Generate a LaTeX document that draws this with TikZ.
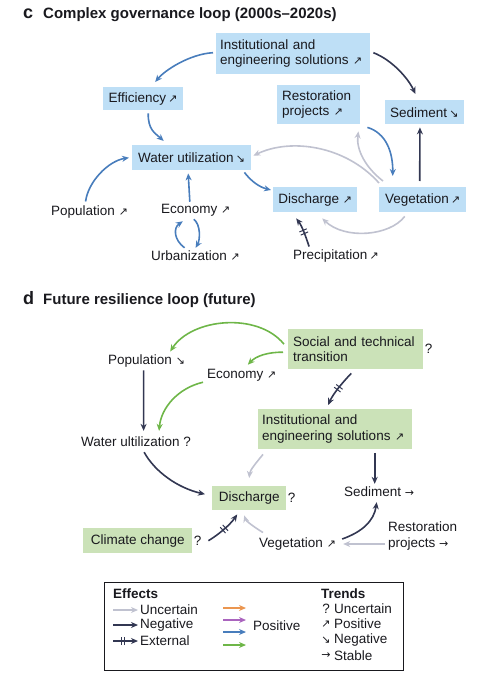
\documentclass[tikz,border=0pt]{standalone}
\usepackage{fontspec}
\setmainfont{Liberation Sans}
\newfontfamily\arrowfont{DejaVu Sans}
\usetikzlibrary{arrows.meta, decorations.markings}

\definecolor{boxblue}{RGB}{190,223,246}
\definecolor{boxgreen}{RGB}{203,226,184}
\definecolor{arrblue}{RGB}{72,125,188}
\definecolor{arrnavy}{RGB}{50,55,82}
\definecolor{arrgrey}{RGB}{192,194,208}
\definecolor{arrgreen}{RGB}{110,182,72}
\definecolor{arrorange}{RGB}{235,150,80}
\definecolor{arrpurple}{RGB}{170,100,190}
\definecolor{ink}{RGB}{25,25,30}

\newcommand\trup{{\arrowfont\fontsize{11}{11}\selectfont ↗}}
\newcommand\trdown{{\arrowfont\fontsize{11}{11}\selectfont ↘}}
\newcommand\trflat{{\arrowfont\fontsize{11}{11}\selectfont →}}

\begin{document}
\begin{tikzpicture}[x=1pt, y=-1pt,
        font=\fontsize{13.5}{15.5}\selectfont, text=ink,
        cbox/.style={fill=boxblue, anchor=north west, inner xsep=5pt, inner ysep=0pt},
        dbox/.style={fill=boxgreen, anchor=north west, inner xsep=5pt, inner ysep=0pt},
        txt/.style={anchor=west, inner sep=0pt},
        ttl/.style={anchor=base west, inner sep=0pt, font=\fontsize{15}{17}\bfseries\selectfont},
        ahead/.style={-{Stealth[length=7pt, width=6pt]}, line width=1.6pt},
        posb/.style={ahead, draw=arrblue},
        posg/.style={ahead, draw=arrgreen},
        neg/.style={ahead, draw=arrnavy},
        unc/.style={ahead, draw=arrgrey},
        ext/.style={neg, postaction={decorate}, decoration={markings, mark=at position #1 with {\draw[-, line width=1pt] (-1.7pt,-4pt) -- (-1.7pt,4pt) (1.7pt,-4pt) -- (1.7pt,4pt);}}},
        ext/.default=0.5]
        \useasboundingbox (0,0) rectangle (481,682);

        % panel c
        \node[ttl, font=\fontsize{18}{18}\bfseries\selectfont] (LabC) at (23,19) {c};
        \node[ttl] (TitC) at (43,19) {Complex governance loop (2000s\textendash2020s)};

        \node[cbox, inner xsep=4pt, text width=146pt, minimum height=41pt, align=left] (Inst) at (216,33) {Institutional and\\engineering solutions \trup};
        \node[cbox, minimum width=80pt, minimum height=23pt] (Eff) at (103,87) {Efficiency\,\trup};
        \node[cbox, text width=73pt, minimum height=39pt, align=left] (Rest) at (277,85) {Restoration\\projects \trup};
        \node[cbox, minimum width=78pt, minimum height=24pt] (Sed) at (385,100) {Sediment\,\trdown};
        \node[cbox, minimum width=119pt, minimum height=25pt] (Wat) at (132,145) {Water utilization\,\trdown};
        \node[cbox, minimum width=84pt, minimum height=25pt] (Dis) at (273,187) {Discharge \trup};
        \node[cbox, minimum width=87pt, minimum height=25pt] (Veg) at (379,187) {Vegetation\,\trup};
        \node[txt] (Pop) at (51,212) {Population \trup};
        \node[txt] (Eco) at (161,210) {Economy \trup};
        \node[txt] (Urb) at (151,256) {Urbanization \trup};
        \node[txt] (Pre) at (293,256) {Precipitation\,\trup};

        \draw[posb] ([shift={(-3,-1)}]Inst.west) .. controls (190,54) and (165,70) .. ([shift={(12,-5)}]Eff.north);
        \draw[neg] ([shift={(3,-1)}]Inst.east) .. controls (392,60) and (408,78) .. ([shift={(-9,-6)}]Sed.north);
        \draw[posb] ([shift={(5,3)}]Eff.south) .. controls (148,130) and (155,133) .. ([shift={(-28,-4)}]Wat.north);
        \draw[posb] ([shift={(-4,-4)}]Pop.north) .. controls (88,182) and (108,161) .. ([shift={(-3,0)}]Wat.west);
        \draw[posb] ([shift={(-6,-2)}]Eco.north) -- ([shift={(-3.5,3)}]Wat.south);
        \draw[posb] ([shift={(-11,-3)}]Urb.north) .. controls (174,240) and (173,228) .. ([shift={(-13,5)}]Eco.south);
        \draw[posb] ([shift={(-2,3)}]Eco.south) .. controls (201,225) and (200,240) .. ([shift={(0,-3)}]Urb.north);
        \draw[posb] ([shift={(-7,2)}]Wat.south east) .. controls (251,181) and (259,187) .. ([shift={(-2,3)}]Dis.north west);
        \draw[unc] ([shift={(0,-4)}]Veg.north west) .. controls (345,145) and (290,138) .. ([shift={(2,-2)}]Wat.east);
        \draw[unc] ([shift={(4,-6)}]Veg.north west) .. controls (366,168) and (356,150) .. ([shift={(-2,7)}]Rest.south east);
        \draw[posb] ([shift={(7,3)}]Rest.south east) .. controls (386,133) and (393,152) .. ([shift={(-30,-11)}]Veg.north);
        \draw[neg] ([shift={(-3,-6)}]Veg.north) -- ([shift={(-4.5,3)}]Sed.south);
        \draw[unc] ([shift={(-18,4)}]Veg.south) .. controls (390,236) and (345,240) .. ([shift={(7,6)}]Dis.south);
        \draw[ext] ([shift={(-27,-3)}]Pre.north) .. controls (306,237) and (302,226) .. ([shift={(-19,6)}]Dis.south);

        % panel d
        \node[ttl, font=\fontsize{18}{18}\bfseries\selectfont] (LabD) at (23,304) {d};
        \node[ttl] (TitD) at (43,304) {Future resilience loop (future)};

        \node[dbox, text width=125pt, minimum height=40pt, align=left, label={[label distance=-2pt]right:?}] (Soc) at (288,329) {Social and technical\\transition};
        \node[dbox, inner xsep=4pt, text width=146pt, minimum height=40pt, align=left] (Inst2) at (258,409) {Institutional and\\engineering solutions \trup};
        \node[dbox, minimum width=74pt, minimum height=24pt, label={[label distance=-2pt]right:?}] (Dis2) at (212,486) {Discharge};
        \node[dbox, minimum width=109pt, minimum height=25pt, label={[label distance=-2pt]right:?}] (Cli) at (83,528) {Climate change};
        \node[txt] (Pop2) at (108,361) {Population \trdown};
        \node[txt] (Eco2) at (207,375) {Economy \trup};
        \node[txt] (Wat2) at (81,442) {Water ultilization ?};
        \node[txt] (Sed2) at (344,492) {Sediment \trflat};
        \node[txt] (Veg2) at (259,544) {Vegetation \trup};
        \node[txt, align=left] (Rest2) at (388,536) {Restoration\\projects \trflat};

        \draw[posg] ([shift={(-4,-5)}]Soc.west) .. controls (258,312) and (192,318) .. ([shift={(-15,-3)}]Pop2.north east);
        \draw[posg] ([shift={(-5,3)}]Soc.west) .. controls (268,352) and (256,356) .. ([shift={(6,-4)}]Eco2.north);
        \draw[posg] ([shift={(-4,1)}]Eco2.south west) .. controls (178,388) and (161,408) .. ([shift={(23,-6)}]Wat2.north);
        \draw[neg] ([shift={(-3,3)}]Pop2.south) -- ([shift={(7.5,-6)}]Wat2.north);
        \draw[ext] ([shift={(-4.5,4)}]Soc.south) .. controls (342,383) and (333,394) .. ([shift={(-7,-4)}]Inst2.north);
        \draw[neg] ([shift={(8,5)}]Wat2.south) .. controls (155,472) and (178,488) .. ([shift={(-7,-4)}]Dis2.west);
        \draw[unc] ([shift={(5,5)}]Inst2.south west) .. controls (256,463) and (250,470) .. ([shift={(0,-8)}]Dis2.north);
        \draw[neg] ([shift={(-4.5,-34)}]Sed2.north) -- ([shift={(-4.5,-3)}]Sed2.north);
        \draw[ext] ([shift={(16,0)}]Cli.east) .. controls (218,535) and (230,525) .. ([shift={(-12,4)}]Dis2.south);
        \draw[unc] ([shift={(4,-5)}]Veg2.north west) .. controls (254,527) and (246,521) .. ([shift={(-5,5)}]Dis2.south);
        \draw[neg] ([shift={(6,-5)}]Veg2.east) .. controls (362,532) and (374,521) .. ([shift={(-2.5,5)}]Sed2.south);
        \draw[unc] ([shift={(-3,8)}]Rest2.west) -- ([shift={(7,0)}]Veg2.east);

        % legend
        \draw[line width=0.8pt, draw=ink] (104,582) rectangle (403,670);
        \node[txt, font=\fontsize{13.5}{15.5}\bfseries\selectfont] (LEff) at (113,594) {Effects};
        \node[txt] (LUnc) at (140,610) {Uncertain};
        \node[txt] (LNeg) at (140,625) {Negative};
        \node[txt] (LExt) at (140,641) {External};
        \draw[unc] ([shift={(-27,0)}]LUnc.west) -- ([shift={(-2,0)}]LUnc.west);
        \draw[neg] ([shift={(-27,0)}]LNeg.west) -- ([shift={(-2,0)}]LNeg.west);
        \draw[ext=0.4] ([shift={(-27,0)}]LExt.west) -- ([shift={(-2,0)}]LExt.west);
        \foreach \c/\y in {arrorange/608, arrpurple/620, arrblue/632, arrgreen/645}
            \draw[ahead, draw=\c] (223,\y) -- (246,\y);
        \node[txt] (LPos) at (253,626) {Positive};
        \node[txt, font=\fontsize{13.5}{15.5}\bfseries\selectfont] (LTr) at (321,594) {Trends};
        \foreach \s/\t/\y [count=\i] in {?/Uncertain/609, \trup/Positive/624, \trdown/Negative/640, \trflat/Stable/656} {
            \node (LS\i) at (326,\y) {\s};
            \node[txt] (LT\i) at (334,\y) {\t};
        }
    \end{tikzpicture}
\end{document}
